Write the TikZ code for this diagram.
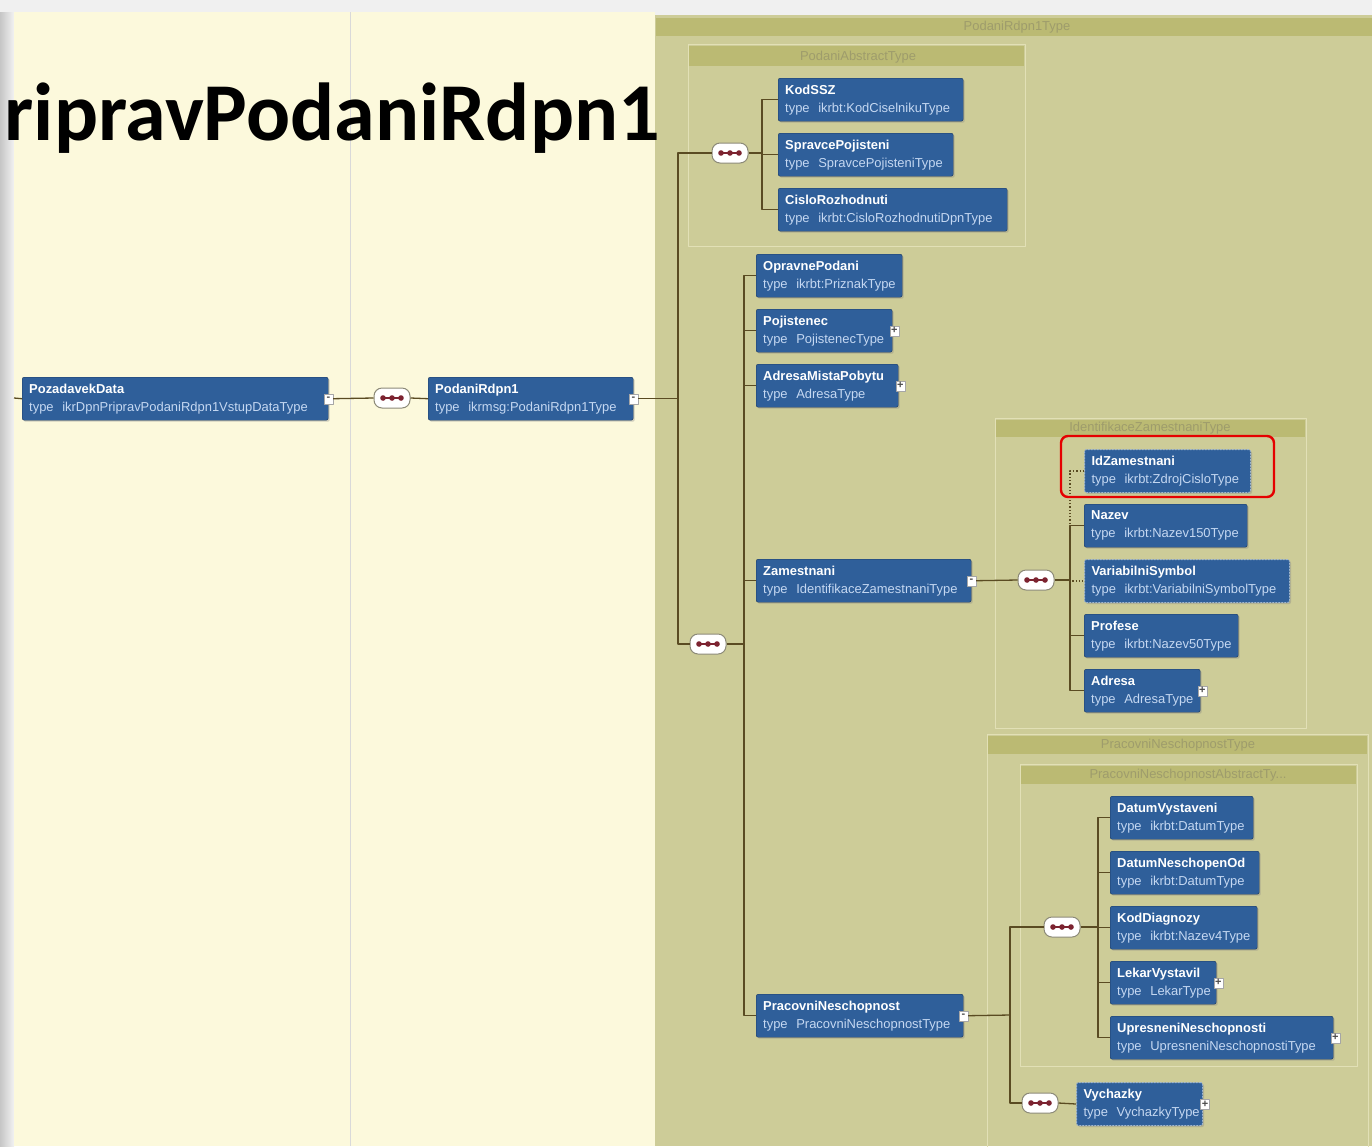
\documentclass[tikz,border=0pt]{standalone}
\usepackage{fontspec}
\setmainfont{Liberation Sans}
\newfontfamily\titlefont{Carlito}
\usetikzlibrary{shadows}

\definecolor{cream}{HTML}{FCF9DC}
\definecolor{olive}{HTML}{CDCC98}
\definecolor{olivehead}{HTML}{BBBA73}
\definecolor{boxline}{HTML}{E2E0B6}
\definecolor{headtext}{HTML}{9E9C6C}
\definecolor{elemfill}{HTML}{2F5F9A}
\definecolor{elemborder}{HTML}{1C3A60}
\definecolor{typeblue}{HTML}{C5D8F2}
\definecolor{connline}{HTML}{5A4B22}
\definecolor{dotred}{HTML}{7C2330}
\definecolor{pillborder}{HTML}{8C8A78}

\newcommand{\elemtext}[2]{\mbox{\textbf{#1}}\\\mbox{\textcolor{typeblue}{type~~#2}}}

\begin{document}
\begin{tikzpicture}[x=1bp,y=-1bp,line join=bevel,
  elem/.style={draw=elemborder,fill=elemfill,rounded corners=2bp,anchor=north west,
    inner xsep=7bp,inner ysep=0bp,minimum height=43bp,align=left,text=white,
    font=\fontsize{13}{18}\selectfont,
    drop shadow={shadow xshift=1.5bp,shadow yshift=-1.5bp,opacity=0.35}},
  optelem/.style={elem,draw=white!55!elemfill,line width=1bp,dash pattern=on 1.5bp off 1.5bp},
  seq/.style={draw=pillborder,fill=white,rounded corners=8bp,minimum width=36bp,
    minimum height=20bp,inner sep=0bp,line width=1bp},
  expander/.style={draw=gray!70,fill=white,minimum width=9bp,minimum height=10bp,
    inner sep=0bp,font=\fontsize{11}{11}\selectfont\bfseries,text=black!70},
  conn/.style={draw=connline,line width=1.3bp},
  typebox/.style={draw=boxline,line width=1bp},
  headtext/.style={text=headtext,font=\fontsize{13}{13}\selectfont,inner sep=0bp},
]
\useasboundingbox (0,0) rectangle (1372,1146);
%% background
\fill[gray!12] (0,0) rectangle (1372,1146);
\shade[left color=gray!45,right color=gray!10] (0,12) rectangle (14,1146);
\fill[cream] (14,12) rectangle (655,1146);
\draw[gray!30,line width=1bp] (350,12) -- (350,1146);
\fill[olive] (655,15) rectangle (1372,1146);
\fill[olivehead] (656,18) rectangle (1372,36);
\node (head_podani) at (1017,27) [headtext] {PodaniRdpn1Type};
%
\node (node_title) at (660,140) [anchor=base east,inner sep=0bp,
  font=\titlefont\bfseries\fontsize{82.5}{82.5}\selectfont] {ripravPodaniRdpn1};
%% type containers
\draw[typebox] (688,44) rectangle (1025,246);
\fill[olivehead] (689,46) rectangle (1024,66);
\node (head_abstract) at (858,57) [headtext] {PodaniAbstractType};
\draw[typebox] (995,418) rectangle (1306,728);
\fill[olivehead] (996,420) rectangle (1305,437);
\node (head_identifikace) at (1150,428) [headtext] {IdentifikaceZamestnaniType};
\draw[typebox] (987,734) rectangle (1368,1150);
\fill[olivehead] (988,736) rectangle (1367,754);
\node (head_neschopnost) at (1178,745) [headtext] {PracovniNeschopnostType};
\draw[typebox] (1020,764) rectangle (1357,1066);
\fill[olivehead] (1021,766) rectangle (1356,784);
\node (head_nesch_abstract) at (1188,775) [headtext] {PracovniNeschopnostAbstractTy...};
%% elements
\node (node_pozadavek) at (22,377) [elem,text width=292bp] {\elemtext{PozadavekData}{ikrDpnPripravPodaniRdpn1VstupDataType}};
\node (node_podani) at (428,377) [elem,text width=191bp] {\elemtext{PodaniRdpn1}{ikrmsg:PodaniRdpn1Type}};
\node (node_kodssz) at (778,78) [elem,text width=171bp] {\elemtext{KodSSZ}{ikrbt:KodCiselnikuType}};
\node (node_spravce) at (778,133) [elem,text width=161bp] {\elemtext{SpravcePojisteni}{SpravcePojisteniType}};
\node (node_cislo) at (778,188) [elem,text width=215bp] {\elemtext{CisloRozhodnuti}{ikrbt:CisloRozhodnutiDpnType}};
\node (node_opravne) at (756,254) [elem,text width=132bp] {\elemtext{OpravnePodani}{ikrbt:PriznakType}};
\node (node_pojistenec) at (756,309) [elem,text width=122bp] {\elemtext{Pojistenec}{PojistenecType}};
\node (node_adresamista) at (756,364) [elem,text width=128bp] {\elemtext{AdresaMistaPobytu}{AdresaType}};
\node (node_zamestnani) at (756,559) [elem,text width=201bp] {\elemtext{Zamestnani}{IdentifikaceZamestnaniType}};
\node (node_pracovni) at (756,994) [elem,text width=193bp] {\elemtext{PracovniNeschopnost}{PracovniNeschopnostType}};
\node (node_idzam) at (1084,449) [optelem,text width=152bp] {\elemtext{IdZamestnani}{ikrbt:ZdrojCisloType}};
\node (node_nazev) at (1084,504) [elem,text width=149bp] {\elemtext{Nazev}{ikrbt:Nazev150Type}};
\node (node_varsym) at (1084,559) [optelem,text width=191bp] {\elemtext{VariabilniSymbol}{ikrbt:VariabilniSymbolType}};
\node (node_profese) at (1084,614) [elem,text width=140bp] {\elemtext{Profese}{ikrbt:Nazev50Type}};
\node (node_adresa) at (1084,669) [elem,text width=102bp] {\elemtext{Adresa}{AdresaType}};
\node (node_datumvyst) at (1110,796) [elem,text width=129bp] {\elemtext{DatumVystaveni}{ikrbt:DatumType}};
\node (node_datumnesch) at (1110,851) [elem,text width=135bp] {\elemtext{DatumNeschopenOd}{ikrbt:DatumType}};
\node (node_koddiag) at (1110,906) [elem,text width=133bp] {\elemtext{KodDiagnozy}{ikrbt:Nazev4Type}};
\node (node_lekar) at (1110,961) [elem,text width=92bp] {\elemtext{LekarVystavil}{LekarType}};
\node (node_upresneni) at (1110,1016) [elem,text width=209bp] {\elemtext{UpresneniNeschopnosti}{UpresneniNeschopnostiType}};
\node (node_vychazky) at (1076,1082) [optelem,text width=112bp] {\elemtext{Vychazky}{VychazkyType}};
%% expand / collapse markers
\node (node_pozadavek_x) at (node_pozadavek.east) [expander] {-};
\node (node_podani_x) at (node_podani.east) [expander] {-};
\node (node_zamestnani_x) at (node_zamestnani.east) [expander] {-};
\node (node_pracovni_x) at (node_pracovni.east) [expander] {-};
\node (node_pojistenec_x) at ([xshift=2bp]node_pojistenec.east) [expander] {+};
\node (node_adresamista_x) at ([xshift=2bp]node_adresamista.east) [expander] {+};
\node (node_adresa_x) at ([xshift=2bp]node_adresa.east) [expander] {+};
\node (node_lekar_x) at ([xshift=2bp]node_lekar.east) [expander] {+};
\node (node_upresneni_x) at ([xshift=2bp]node_upresneni.east) [expander] {+};
\node (node_vychazky_x) at ([xshift=2bp]node_vychazky.east) [expander] {+};
%% sequence compositors
\node (node_seq0) at (392,398) [seq] {};
\node (node_seq1) at (730,153) [seq] {};
\node (node_seq2) at (708,644) [seq] {};
\node (node_seq3) at (1036,580) [seq] {};
\node (node_seq4) at (1062,927) [seq] {};
\node (node_seq5) at (1040,1103) [seq] {};
\foreach \n in {node_seq0,node_seq1,node_seq2,node_seq3,node_seq4,node_seq5} {
  \draw[dotred,line width=1.2bp] ([xshift=-9bp]\n.center) -- ([xshift=9bp]\n.center);
  \foreach \d in {-9,0,9}
    \fill[dotred] ([xshift=\d bp]\n.center) circle (2.8bp);
}
%% connectors
\coordinate (inlet) at (14,398);
\coordinate (trunk) at (678,644);
\coordinate (bus1) at (762,153);
\coordinate (bus2) at (744,644);
\coordinate (bus3) at (1070,580);
\coordinate (bus4) at (1010,1015);
\coordinate (bus5) at (1098,927);
\draw[conn] (inlet) -- (node_pozadavek.west);
\draw[conn] (node_pozadavek_x.east) -- (node_seq0.west);
\draw[conn] (node_seq0.east) -- (node_podani.west);
\draw[conn] (node_podani_x.east) -- (node_podani_x.east -| trunk);
\draw[conn] (node_seq1.west) -| (trunk) -- (node_seq2.west);
\draw[conn] (node_seq1.east) -- (bus1);
\foreach \n in {kodssz,spravce,cislo}
  \draw[conn] (bus1) |- (node_\n.west);
\draw[conn] (node_seq2.east) -- (bus2);
\foreach \n in {opravne,pojistenec,adresamista,zamestnani,pracovni}
  \draw[conn] (bus2) |- (node_\n.west);
\draw[conn] (node_zamestnani_x.east) -- (node_seq3.west);
\draw[conn] (node_seq3.east) -- (bus3);
\foreach \n in {nazev,profese,adresa}
  \draw[conn] (bus3) |- (node_\n.west);
\foreach \n in {idzam,varsym}
  \draw[conn,dotted] (bus3) |- (node_\n.west);
\draw[conn] (node_pracovni_x.east) -- (bus4);
\draw[conn] (node_seq4.west) -| (bus4) |- (node_seq5.west);
\draw[conn] (node_seq4.east) -- (bus5);
\foreach \n in {datumvyst,datumnesch,koddiag,lekar,upresneni}
  \draw[conn] (bus5) |- (node_\n.west);
\draw[conn] (node_seq5.east) -- (node_vychazky.west);
%% highlight
\draw[red!90!black,line width=2.4bp,rounded corners=7bp] (1061,436) rectangle (1274,497);
%
\end{tikzpicture}
\end{document}
